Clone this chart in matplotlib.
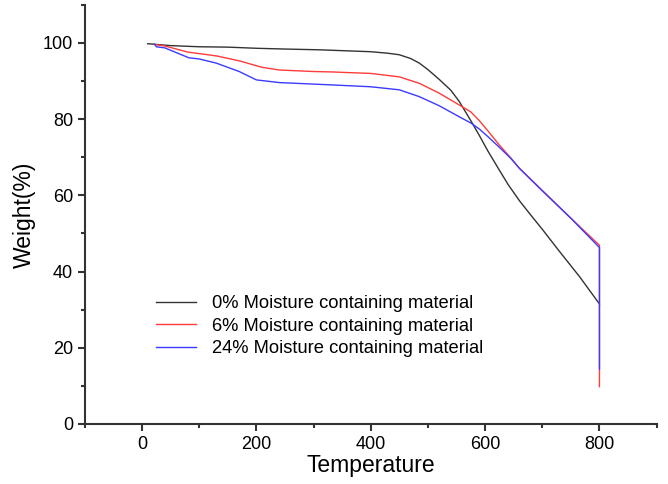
import matplotlib.pyplot as plt
from matplotlib.ticker import MultipleLocator

plt.rcParams['font.family'] = ['Liberation Sans', 'DejaVu Sans']

# TGA curves (temperature, weight %)
t_0 = [10, 50, 100, 150, 200, 250, 310, 400, 430, 450, 470, 485, 500, 520,
       540, 555, 575, 590, 605, 625, 640, 660, 680, 700, 730, 765, 800]
w_0 = [99.8, 99.3, 99.0, 98.9, 98.6, 98.4, 98.2, 97.7, 97.3, 96.9, 95.9, 94.7,
       93.0, 90.4, 87.6, 84.6, 79.6, 75.7, 71.6, 66.6, 62.9, 58.6, 54.8, 51.1,
       45.3, 38.7, 31.5]

t_6 = [22, 40, 80, 130, 170, 210, 240, 300, 330, 400, 450, 485, 520, 555,
       575, 590, 605, 625, 645, 660, 700, 750, 800, 800]
w_6 = [99.6, 99.2, 97.6, 96.6, 95.3, 93.6, 92.9, 92.5, 92.4, 92.0, 91.1, 89.4,
       86.8, 83.7, 81.9, 79.6, 76.9, 73.2, 69.8, 67.1, 61.3, 54.0, 46.9, 9.8]

t_24 = [22, 25, 40, 82, 100, 130, 170, 200, 240, 300, 330, 400, 450, 485,
        520, 555, 575, 590, 605, 625, 645, 660, 700, 750, 800, 800]
w_24 = [99.7, 99.0, 98.7, 96.1, 95.8, 94.7, 92.5, 90.3, 89.6, 89.2, 89.0, 88.5,
        87.7, 85.9, 83.5, 80.6, 79.0, 77.4, 75.4, 72.6, 69.7, 67.1, 61.2, 54.0,
        46.3, 14.4]

labels = ['0% Moisture containing material',
          '6% Moisture containing material',
          '24% Moisture containing material']

fig = plt.figure(figsize=(6.68, 4.84), dpi=100)
ax = fig.add_axes([0.127, 0.124, 0.856, 0.866])

ax.plot(t_0, w_0, color='#333333', lw=1.0, label=labels[0])
ax.plot(t_6, w_6, color='#ff3b3b', lw=1.0, label=labels[1])
ax.plot(t_24, w_24, color='#3b3bff', lw=1.0, label=labels[2])

ax.set_xlim(-100, 900)
ax.set_ylim(0, 110)
ax.xaxis.set_major_locator(MultipleLocator(200))
ax.xaxis.set_minor_locator(MultipleLocator(100))
ax.yaxis.set_major_locator(MultipleLocator(20))
ax.yaxis.set_minor_locator(MultipleLocator(10))

for s in ['top', 'right']:
    ax.spines[s].set_visible(False)
for s in ['left', 'bottom']:
    ax.spines[s].set_linewidth(1.5)
    ax.spines[s].set_color('#333333')

ax.tick_params(which='major', direction='out', length=5, width=1.5,
               colors='#333333', labelsize=13, labelcolor='black')
ax.tick_params(which='minor', direction='out', length=3, width=1.5,
               colors='#333333')

ax.set_xlabel('Temperature', fontsize=16.5, labelpad=1)
ax.set_ylabel('Weight(%)', fontsize=16.5, labelpad=5)

ax.legend(loc='lower left', bbox_to_anchor=(0.095, 0.12), frameon=False,
          fontsize=13.2, handlelength=2.2, handletextpad=0.9, labelspacing=0.3)

fig.savefig('out.png', dpi=100)
